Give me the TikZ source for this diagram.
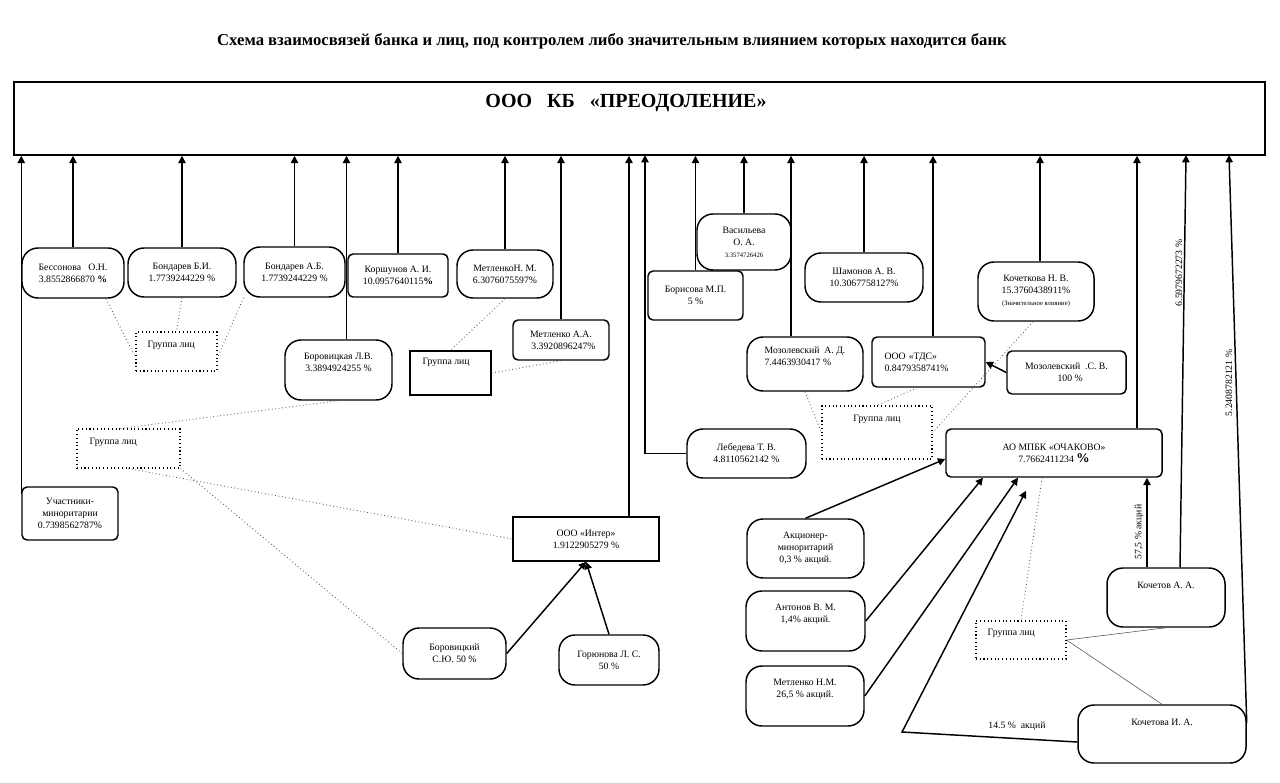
\documentclass[tikz,border=0pt]{standalone}
\usepackage{fontspec}
\setmainfont{Liberation Serif}
\usetikzlibrary{arrows.meta,calc}
\newdimen\pxu \pxu=0.75pt
\newcommand\fs{\fontsize{7.3}{9}\selectfont}
\newcommand\fss{\fontsize{5}{6.5}\selectfont}
\begin{document}
\begin{tikzpicture}[x=0.75pt,y=-0.75pt,
  pill/.style={draw, line width=1.1pt, rounded corners=16\pxu, align=center, inner sep=1pt, font=\fs},
  sbox/.style={draw, line width=1.1pt, rounded corners=5\pxu, align=center, inner sep=1pt, font=\fs},
  rbox/.style={draw, line width=1.1pt, align=center, inner sep=1pt, font=\fs},
  grp/.style={draw, dotted, line width=0.8pt, inner sep=0pt},
  grps/.style={draw, line width=1pt, inner sep=0pt},
  arr/.style={line width=1.1pt, -{Triangle[length=5.5pt,width=5.5pt]}},
  dotl/.style={dotted, line width=0.6pt, black!70},
  thin/.style={line width=0.4pt, black!70},
  glab/.style={font=\fs, inner sep=0pt}
]
\fill[white] (0,0) rectangle (1280,782);
\useasboundingbox (0,0) rectangle (1280,782);

% title
\node[font=\bfseries\fontsize{12.5}{14}\selectfont, inner sep=0pt] (title) at (612,41)
  {Схема взаимосвязей банка и лиц, под контролем либо значительным влиянием которых находится банк};

% main bank box
\node[draw, line width=1.1pt, minimum width=1251\pxu, minimum height=73\pxu, inner sep=0pt,
  label={[anchor=north, yshift=-13\pxu, xshift=-13.5\pxu, font=\bfseries\fontsize{15}{17}\selectfont, inner sep=0pt]north:{ООО\ \ \ КБ\ \ \ «ПРЕОДОЛЕНИЕ»}}]
  (main) at (639.5,118.5) {};

% left side boxes
\node[pill, minimum width=102\pxu, minimum height=50\pxu] (bess) at (73,273) {Бессонова\ \ \ О.Н.\\3.8552866870 \textbf{\%}};
\node[pill, minimum width=108\pxu, minimum height=49\pxu] (bondBI) at (182,272.5) {Бондарев Б.И.\\1.7739244229 \%};
\node[pill, minimum width=101\pxu, minimum height=50\pxu] (bondAB) at (294.5,272) {Бондарев А.Б.\\1.7739244229 \%};
\node[grp, minimum width=81\pxu, minimum height=39\pxu,
  label={[glab, anchor=north west, xshift=12\pxu, yshift=-9\pxu]north west:Группа лиц}] (g1) at (176.5,351.5) {};
\node[pill, minimum width=107\pxu, minimum height=60\pxu] (bor) at (338.5,370) {Боровицкая Л.В.\\3.3894924255 \%\\[4\pxu]};
\node[sbox, minimum width=100\pxu, minimum height=43\pxu] (korsh) at (398,275.5) {Коршунов А. И.\\10.0957640115\textbf{\%}};
\node[pill, minimum width=96\pxu, minimum height=48\pxu] (metNM) at (505,274) {МетленкоН. М.\\6.3076075597\%};
\node[sbox, minimum width=96\pxu, minimum height=40\pxu] (metAA) at (561,340) {Метленко А.А.\\\ \ 3.3920896247\%};
\node[grps, minimum width=81\pxu, minimum height=44\pxu,
  label={[glab, anchor=north west, xshift=13\pxu, yshift=-8\pxu]north west:Группа лиц}] (g2) at (450.5,373) {};
\node[grp, minimum width=103\pxu, minimum height=39\pxu,
  label={[glab, anchor=north west, xshift=13\pxu, yshift=-9\pxu]north west:Группа лиц}] (g3) at (128.5,448.5) {};
\node[sbox, minimum width=96\pxu, minimum height=53\pxu] (uch) at (70,513.5) {Участники-\\миноритарии\\0.7398562787\%};
\node[rbox, minimum width=146\pxu, minimum height=44\pxu] (inter) at (586,539) {ООО «Интер»\\1.9122905279 \%};
\node[pill, minimum width=103\pxu, minimum height=51\pxu] (borS) at (454.5,653.5) {Боровицкий\\С.Ю. 50 \%};
\node[pill, minimum width=100\pxu, minimum height=50\pxu] (gor) at (609,660) {Горюнова Л. С.\\50 \%};

% right side boxes
\node[pill, minimum width=94\pxu, minimum height=56\pxu] (vas) at (744,242) {Васильева\\О. А.\\{\fss 3.3574726426}};
\node[sbox, minimum width=95\pxu, minimum height=49\pxu] (boris) at (695.5,295.5) {Борисова М.П.\\5 \%};
\node[pill, minimum width=118\pxu, minimum height=49\pxu] (sham) at (864,277.5) {Шамонов А. В.\\10.3067758127\%};
\node[pill, minimum width=116\pxu, minimum height=54\pxu, align=left] (mozAD) at (805,364) {Мозолевский\ \ А. Д.\\7.4463930417 \%\\[3\pxu]};
\node[sbox, minimum width=113\pxu, minimum height=50\pxu, align=left, text width=88\pxu] (tds) at (928.5,362) {ООО «ТДС»\\0.8479358741\%\\[4\pxu]};
\node[sbox, minimum width=119\pxu, minimum height=43\pxu] (mozSV) at (1066.5,372.5) {Мозолевский\ \ .С. В.\\\ \ \ 100 \%};
\node[pill, minimum width=116\pxu, minimum height=59\pxu] (kochN) at (1036,291.5) {Кочеткова Н. В.\\15.3760438911\%\\{\fss (Значительное влияние)}};
\node[grp, minimum width=110\pxu, minimum height=53\pxu,
  label={[glab, anchor=north, yshift=-9\pxu]north:Группа лиц}] (g4) at (877,432.5) {};
\node[pill, minimum width=119\pxu, minimum height=49\pxu] (leb) at (746.5,453.5) {Лебедева Т. В.\\4.8110562142 \%};
\node[sbox, minimum width=216\pxu, minimum height=48\pxu] (och) at (1054,453) {АО МПБК «ОЧАКОВО»\\7.7662411234 \textbf{\fontsize{10}{9}\selectfont\%}};
\node[pill, minimum width=117\pxu, minimum height=59\pxu] (akc) at (805.5,548.5) {Акционер-\\миноритарий\\0,3 \% акций.};
\node[pill, minimum width=119\pxu, minimum height=60\pxu] (ant) at (805.5,621) {Антонов В. М.\\1,4\% акций.\\[4\pxu]};
\node[pill, minimum width=118\pxu, minimum height=60\pxu] (metN2) at (805,696) {Метленко Н.М.\\26,5 \% акций.\\[4\pxu]};
\node[grp, minimum width=90\pxu, minimum height=38\pxu,
  label={[glab, anchor=north west, xshift=12\pxu, yshift=-8\pxu]north west:Группа лиц}] (g5) at (1021,640) {};
\node[pill, minimum width=118\pxu, minimum height=59\pxu] (kochA) at (1166,597.5) {Кочетов А. А.\\[12\pxu]};
\node[pill, minimum width=168\pxu, minimum height=58\pxu] (kochI) at (1162,734) {Кочетова И. А.\\[12\pxu]};

% labels on connectors
\node[font=\fs, inner sep=0pt] (l145) at (1017,726) {14.5 \%\ \ акций};
\node[font=\fs, rotate=90, inner sep=0pt] (l575) at (1139,532) {57,5 \% акций};
\node[font=\fs, rotate=90, inner sep=0pt] (l659) at (1179,273) {6.5979672273 \%};
\node[font=\fs, rotate=90, inner sep=0pt] (l524) at (1229,383) {5.2408782121 \%};

% anchor coordinates
\coordinate (uchT) at ([yshift=-8\pxu]uch.north west);
\coordinate (borT) at ([xshift=8\pxu]bor.north);
\coordinate (interT) at ([xshift=43\pxu]inter.north);
\coordinate (c645) at (645,155);
\coordinate (mozT) at ([xshift=-14\pxu]mozAD.north);
\coordinate (tdsT) at ([xshift=4.5\pxu]tds.north);
\coordinate (kochNT) at ([xshift=4\pxu]kochN.north);
\coordinate (ochT) at ([xshift=83\pxu]och.north);
\coordinate (kochAT) at ([xshift=14\pxu]kochA.north);
\coordinate (c1186) at (1186,155);
\coordinate (kochIR) at ([yshift=11\pxu]kochI.east);
\coordinate (c1229) at (1229,155);
\coordinate (kochA2) at ([xshift=-19\pxu]kochA.north);
\coordinate (tri) at (902,732);
\coordinate (triS) at ([yshift=-8\pxu]kochI.west);
\coordinate (tipc) at ([xshift=-28\pxu,yshift=-13\pxu]och.south);

% arrows into the bank
\draw[arr] (uchT) -- (uchT |- main.south);
\draw[arr] (bess.north) -- (bess.north |- main.south);
\draw[arr] (bondBI.north) -- (bondBI.north |- main.south);
\draw[arr] (bondAB.north) -- (bondAB.north |- main.south);
\draw[arr] (borT) -- (borT |- main.south);
\draw[arr] (korsh.north) -- (korsh.north |- main.south);
\draw[arr] (metNM.north) -- (metNM.north |- main.south);
\draw[arr] (metAA.north) -- (metAA.north |- main.south);
\draw[arr] (interT) -- (interT |- main.south);
\draw[arr] (leb.west) -| (c645);
\draw[arr] (boris.north) -- (boris.north |- main.south);
\draw[arr] (vas.north) -- (vas.north |- main.south);
\draw[arr] (mozT) -- (mozT |- main.south);
\draw[arr] (sham.north) -- (sham.north |- main.south);
\draw[arr] (tdsT) -- (tdsT |- main.south);
\draw[arr] (kochNT) -- (kochNT |- main.south);
\draw[arr] (ochT) -- (ochT |- main.south);
\draw[arr] (kochAT) -- (c1186);
\draw[arr] (kochIR) -- (c1229);

% dotted group links
\draw[dotl] ([xshift=33\pxu]bess.south) -- ([yshift=-6\pxu]g1.west);
\draw[dotl] (bondBI.south) -- (g1.north);
\draw[dotl] ([xshift=-51\pxu]bondAB.south) -- ([yshift=-6\pxu]g1.east);
\draw[dotl] (metNM.south) -- (g2.north);
\draw[dotl] (g2.east) -- (metAA.south);
\draw[dotl] ([xshift=-8\pxu]g3.north) -- (bor.south);
\draw[dotl] (g3.south) -- (inter.west);
\draw[dotl] (g3.south east) -- (borS.west);
\draw[dotl] (mozAD.south) -- (g4.west);
\draw[dotl] ([xshift=-11.5\pxu]tds.south) -- (g4.north);
\draw[dotl] ([xshift=-3\pxu]kochN.south) -- (g4.east);
\draw[dotl] ([xshift=-12\pxu]och.south) -- (g5.north);
\draw[thin] (g5.east) -- (kochA.south);
\draw[thin] (g5.east) -- (kochI.north);

% solid arrows
\draw[arr] (borS.east) -- (inter.south);
\draw[arr] (gor.north) -- (inter.south);
\draw[arr] (mozSV.west) -- (tds.east);
\draw[arr] (akc.north) -- ([yshift=-6\pxu]och.west);
\draw[arr] (ant.east) -- ([xshift=-71\pxu]och.south);
\draw[arr] (metN2.east) -- ([xshift=-36\pxu]och.south);
\draw[arr] (triS) -- (tri) -- (tipc);
\draw[arr] (kochA2) -- (kochA2 |- och.south);
\end{tikzpicture}
\end{document}
